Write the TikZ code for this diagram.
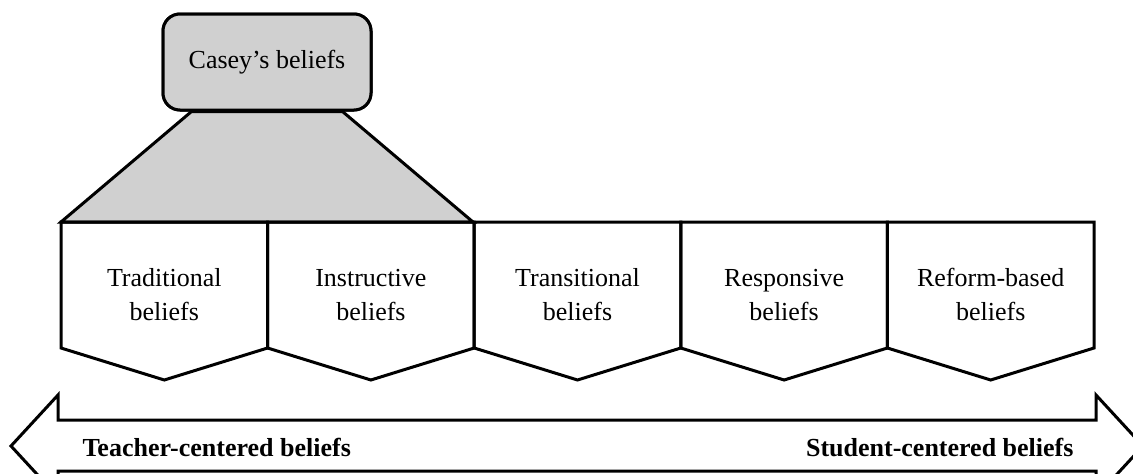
\documentclass[tikz,border=0pt]{standalone}
\usepackage{fontspec}
\setmainfont{Liberation Serif}
\begin{document}
\begin{tikzpicture}[x=1pt,y=-1pt,line width=3pt,line join=miter,
  shade/.style={fill={rgb,255:red,208;green,208;blue,208}},
  labeltext/.style={font=\fontsize{26}{34}\selectfont,align=center,inner sep=0pt},
  axistext/.style={font=\fontsize{26}{31}\selectfont\bfseries,inner sep=0pt}]
\useasboundingbox (0,0) rectangle (1133,474);
\clip (0,0) rectangle (1133,474);

% double-headed axis arrow
\draw (11,446) -- (58,395) -- (58,420) -- (1096,420) -- (1096,395)
  -- (1143,446) -- (1096,497) -- (1096,471) -- (58,471) -- (58,497) -- cycle;
\node[axistext,anchor=base west] (teacher) at (81,456) {Teacher-centered beliefs};
\node[axistext,anchor=base east] (student) at (1075,456) {Student-centered beliefs};

% top box
\node[draw,shade,rounded corners=17pt,minimum width=208pt,minimum height=96pt,
  font=\fontsize{26}{31}\selectfont] (casey) at (267,62) {Casey’s beliefs};

% trapezoid linking the box to the first two categories
\draw[shade] ([xshift=-75.5pt]casey.south) -- (61,222) -- (473,222)
  -- ([xshift=75.5pt]casey.south) -- cycle;

% the five belief categories
\foreach \i/\name/\txt in {0/p1/{Traditional\strut\\beliefs\strut},
  1/p2/{Instructive\strut\\beliefs\strut},
  2/p3/{Transitional\strut\\beliefs\strut},
  3/p4/{Responsive\strut\\beliefs\strut},
  4/p5/{Reform-based\strut\\beliefs\strut}}{
  \pgfmathsetmacro\xa{61+206.6*\i}
  \pgfmathsetmacro\xb{\xa+206.6}
  \pgfmathsetmacro\xm{\xa+103.3}
  \draw (\xa,222) -- (\xb,222) -- (\xb,348) -- (\xm,380) -- (\xa,348) -- cycle;
  \node[labeltext] (\name) at (\xm,297) {\txt};
}

% redraw the box on top so its outline stays clean
\node[draw,shade,rounded corners=17pt,minimum width=208pt,minimum height=96pt,
  font=\fontsize{26}{31}\selectfont] at (casey.center) {Casey’s beliefs};
\end{tikzpicture}
\end{document}
